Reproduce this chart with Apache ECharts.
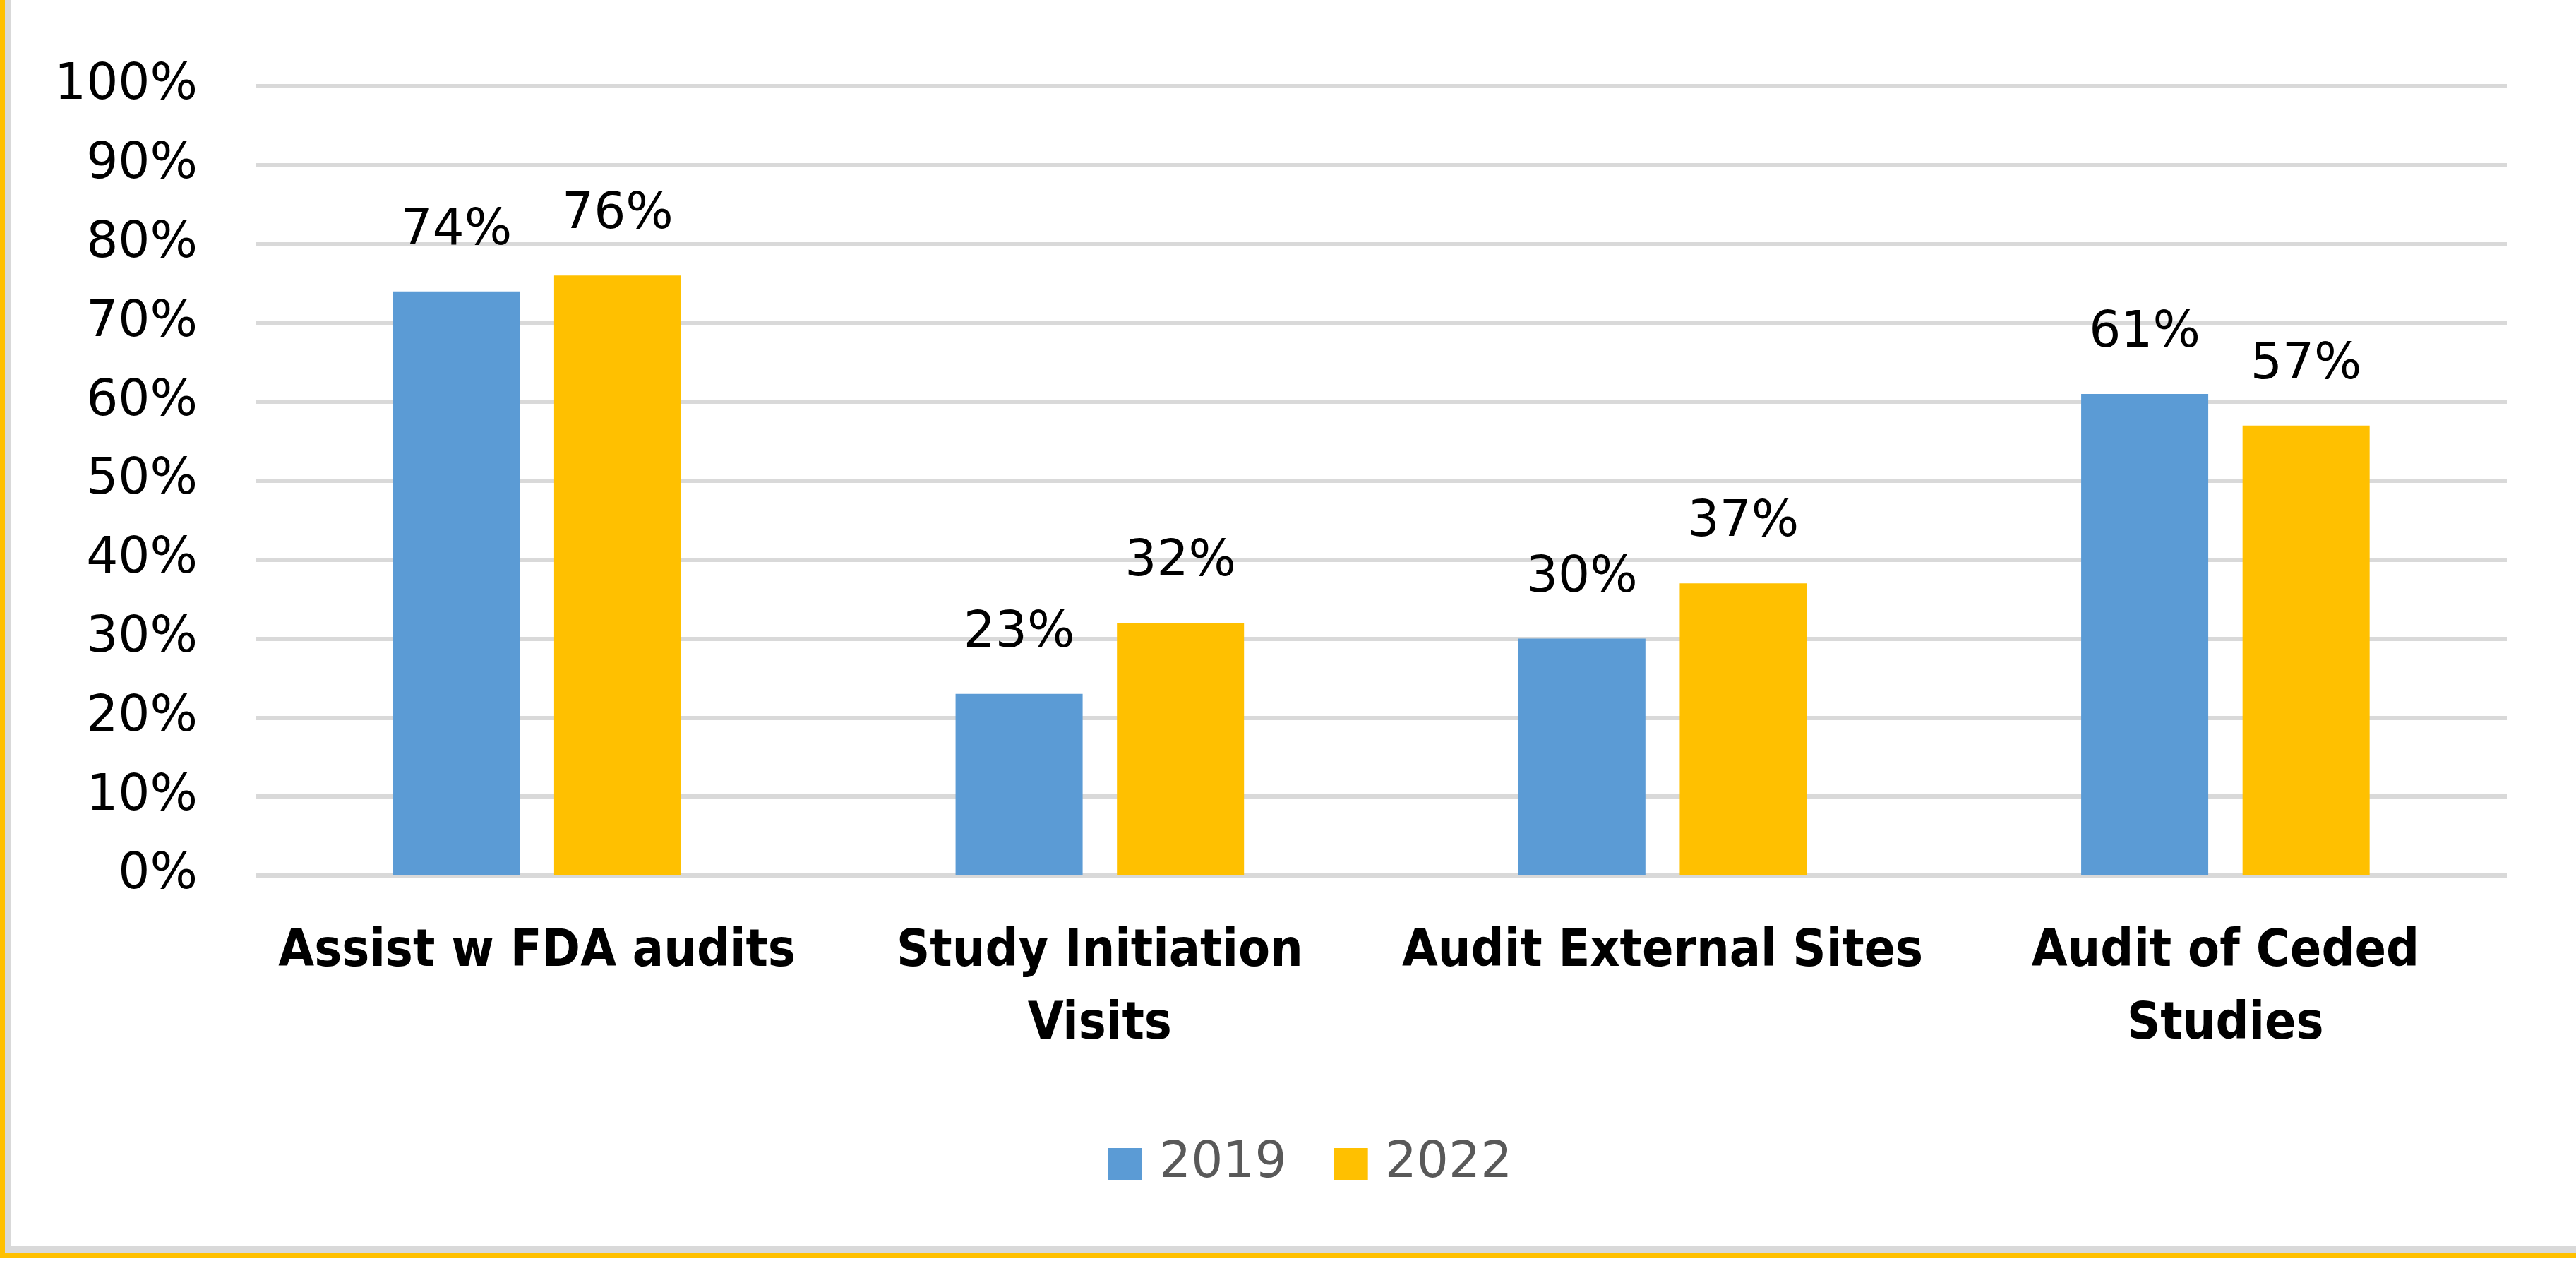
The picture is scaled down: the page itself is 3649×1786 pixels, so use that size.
<!DOCTYPE html>
<html>
<head>
<meta charset="utf-8">
<script src="https://cdn.jsdelivr.net/npm/echarts@6/dist/echarts.min.js"></script>
<style>
  html, body { margin: 0; padding: 0; background: #fff; }
  #chart { width: 3649px; height: 1786px; }
</style>
</head>
<body>
<div id="chart"></div>
<script>
// data
var categories = ["Assist w FDA audits", "Study Initiation\nVisits", "Audit External Sites", "Audit of Ceded\nStudies"];
var seriesNames = ["2019", "2022"];
var values2019 = [74, 23, 30, 61];
var values2022 = [76, 32, 37, 57];
var yTicks = { min: 0, max: 100, interval: 10 };

function init_echart_bar(container) {
  var chartDom = document.getElementById(container);
  var myChart = echarts.init(chartDom);
  var font = "DejaVu Sans";
  var boldFont = "DejaVu Sans Condensed";

  var option = {
    backgroundColor: "#fff",
    animation: false,
    grid: { left: 362, right: 98, top: 122, bottom: 546 },
    legend: {
      data: seriesNames,
      left: 1565,
      top: 1608,
      itemWidth: 48,
      itemHeight: 45,
      itemGap: 67,
      icon: "rect",
      textStyle: { fontFamily: font, fontSize: 71, color: "#595959", padding: [0, 0, 0, 19] },
    },
    xAxis: {
      type: "category",
      data: categories,
      axisLine: { show: false },
      axisTick: { show: false },
      axisLabel: {
        interval: 0,
        margin: 58,
        fontFamily: boldFont,
        fontWeight: "bold",
        fontSize: 73,
        lineHeight: 103,
        color: "#000",
      },
    },
    yAxis: {
      type: "value",
      min: yTicks.min,
      max: yTicks.max,
      interval: yTicks.interval,
      axisLine: { show: false },
      axisTick: { show: false },
      splitLine: { lineStyle: { color: "#d9d9d9", width: 6 } },
      axisLabel: {
        formatter: "{value}%",
        margin: 82,
        fontFamily: font,
        fontSize: 71,
        color: "#000",
      },
    },
    series: [
      {
        name: seriesNames[0],
        type: "bar",
        data: values2019,
        barWidth: 180,
        barGap: "27%",
        itemStyle: { color: "#5b9bd5" },
        label: {
          show: true,
          position: "top",
          distance: 50,
          formatter: "{c}%",
          fontFamily: font,
          fontSize: 71,
          color: "#000",
        },
      },
      {
        name: seriesNames[1],
        type: "bar",
        data: values2022,
        barWidth: 180,
        itemStyle: { color: "#ffc000" },
        label: {
          show: true,
          position: "top",
          distance: 50,
          formatter: "{c}%",
          fontFamily: font,
          fontSize: 71,
          color: "#000",
        },
      },
    ],
    // frame on the left and bottom edge
    graphic: [
      { type: "rect", shape: { x: 0, y: 0, width: 7, height: 1782 }, style: { fill: "#ffc000" } },
      { type: "rect", shape: { x: 7, y: 0, width: 8, height: 1774 }, style: { fill: "#d9d9d9" } },
      { type: "rect", shape: { x: 7, y: 1765, width: 3642, height: 9 }, style: { fill: "#d9d9d9" } },
      { type: "rect", shape: { x: 0, y: 1774, width: 3649, height: 8 }, style: { fill: "#ffc000" } },
    ],
  };

  myChart.setOption(option);
  window.addEventListener("resize", function () {
    myChart.resize();
  });
}

init_echart_bar("chart");
</script>
</body>
</html>
